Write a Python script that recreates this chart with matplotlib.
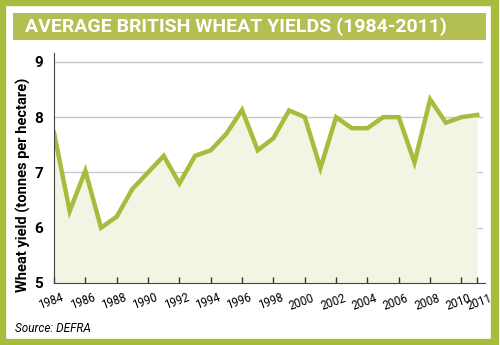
import matplotlib.pyplot as plt
from matplotlib.patches import Rectangle
from matplotlib.transforms import ScaledTranslation

plt.rcParams['font.family'] = ['Roboto', 'DejaVu Sans']

years = list(range(1984, 2012))
yields = [7.72, 6.3, 7.03, 6.0, 6.2, 6.7, 7.0, 7.3, 6.8, 7.3, 7.4, 7.7,
          8.13, 7.4, 7.62, 8.12, 8.0, 7.08, 8.0, 7.8, 7.8, 8.0, 8.0, 7.18,
          8.32, 7.9, 8.0, 8.04]
xticks = list(range(1984, 2012, 2)) + [2011]
yticks = [5, 6, 7, 8, 9]

green = '#a9bb3c'
band = '#b3bf52'
cream = '#f4f4e4'

fig = plt.figure(figsize=(5, 3.45), dpi=100)

# outer frame and title band
fig.patches.append(Rectangle((0.004, 0.006), 0.985, 0.988, transform=fig.transFigure,
                             fill=False, edgecolor=green, linewidth=6))
fig.patches.append(Rectangle((13 / 500, 1 - 40 / 345), 473 / 500, 27 / 345,
                             transform=fig.transFigure, facecolor=band, edgecolor='none'))
fig.text(25 / 500, 1 - 27 / 345, 'AVERAGE BRITISH WHEAT YIELDS (1984-2011)', color='white',
         fontsize=14, fontweight='bold', va='center', ha='left')

ax = fig.add_axes([54 / 500, 1 - 283 / 345, 431 / 500, 230 / 345])
ax.fill_between(years, yields, 5, color=cream, linewidth=0)
ax.plot(years, yields, color=green, linewidth=3.2, solid_joinstyle='miter')

ax.set_xlim(1984, 2011.5)
ax.set_ylim(5, 9.16)
ax.set_yticks(yticks)
ax.set_xticks(xticks)
ax.set_xticklabels([str(x) for x in xticks], rotation=20, ha='right', va='top',
                   rotation_mode='anchor', fontsize=8.3)
ax.set_yticklabels([str(y) for y in yticks], fontsize=11, fontweight='bold')
ax.tick_params(axis='x', direction='in', length=4, width=1, color='#333333', pad=6)
ax.tick_params(axis='y', length=0, pad=8)
labels = ax.get_xticklabels()
for i, lab in enumerate(labels):
    dx = 12 if i == len(labels) - 1 else 7
    lab.set_transform(lab.get_transform() + ScaledTranslation(dx / 100, 0, fig.dpi_scale_trans))

for y in yticks[1:]:
    ax.plot([1984, 2011.3], [y, y], color='#c8c8c8', linewidth=1, zorder=0.5)

for s in ['top', 'right']:
    ax.spines[s].set_visible(False)
ax.spines['left'].set_color('#444444')
ax.spines['bottom'].set_color('#444444')
ax.patch.set_alpha(0)

fig.text(23 / 500, 1 - 185 / 345, 'Wheat yield (tonnes per hectare)', rotation=90,
         fontsize=10.5, fontweight='bold', va='center', ha='center')
fig.text(15 / 500, 1 - 328 / 345, 'Source: DEFRA', fontsize=8.5, style='italic',
         va='center', ha='left')

fig.savefig('out.png', dpi=100)
